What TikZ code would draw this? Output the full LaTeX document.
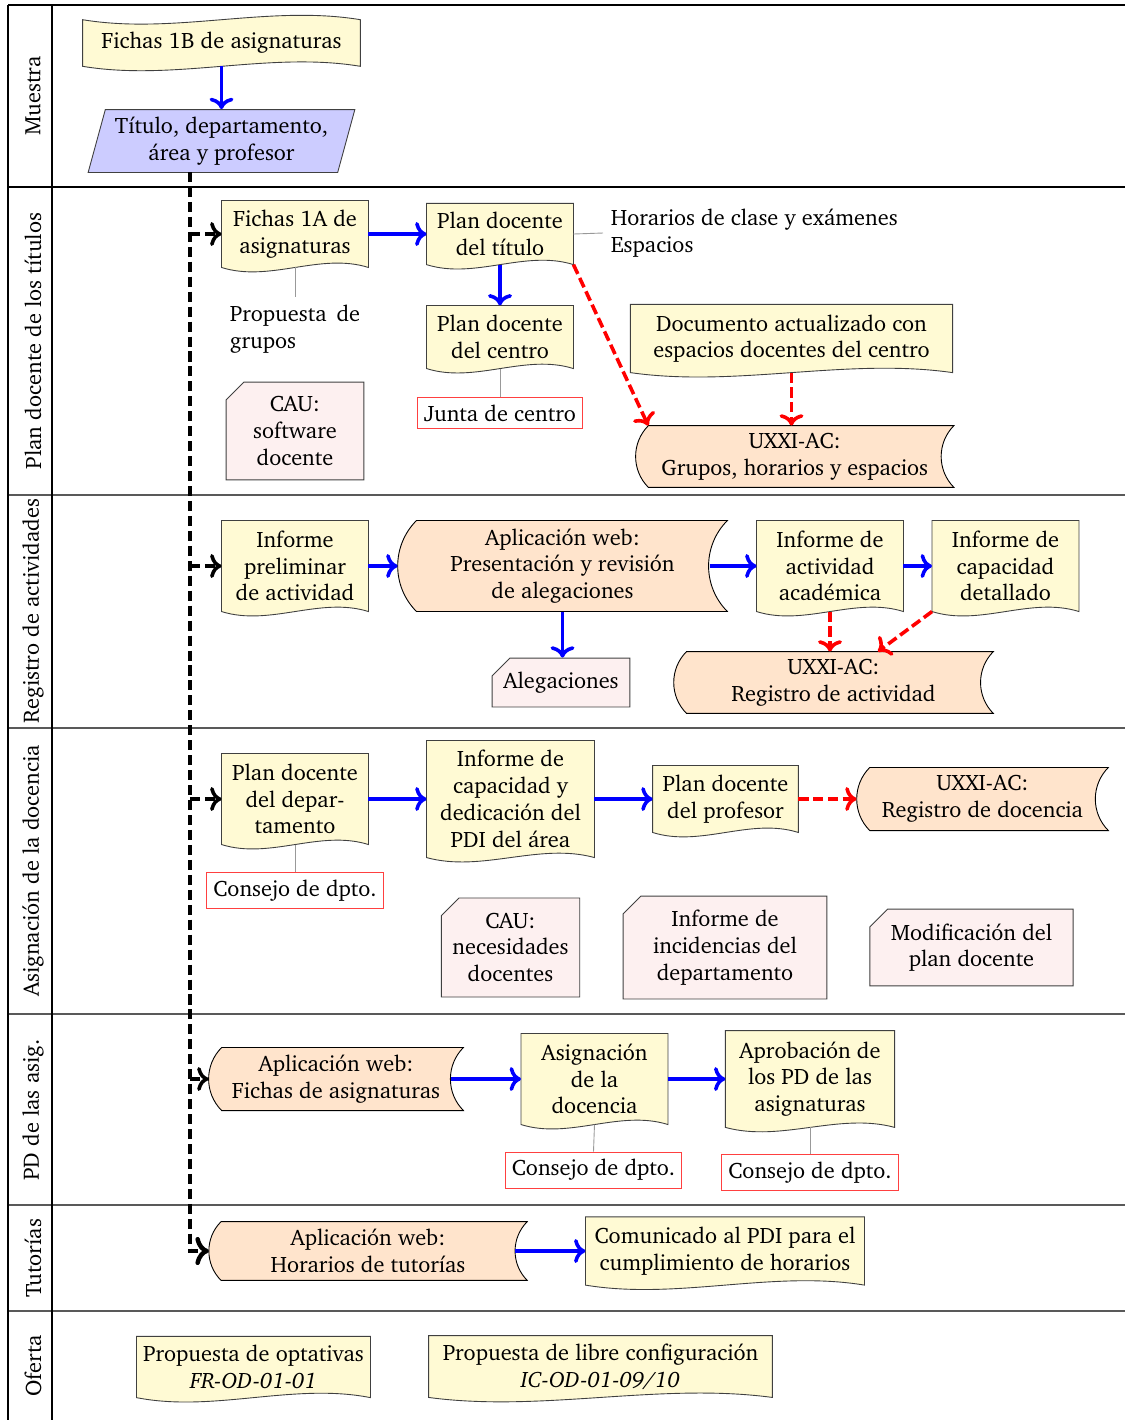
\documentclass[tikz,border=0pt]{standalone}
\usepackage[T1]{fontenc}
\usepackage{charter}
\usepackage{tikz}
\usetikzlibrary{positioning, arrows.meta, calc, backgrounds, shapes.geometric, shapes.misc}

\definecolor{docyellow}{RGB}{255,250,212}
\definecolor{storeorange}{RGB}{255,228,204}
\definecolor{cardpink}{RGB}{253,240,240}
\definecolor{datablue}{RGB}{204,204,255}

% documento: borde inferior ondulado
\newcommand{\docback}[1]{%
  \begin{scope}[on background layer]
    \draw[docline] (#1.north west) -- (#1.south west)
      .. controls ($(#1.south west)!0.33!(#1.south east)+(0cm,-0.24cm)$)
      and ($(#1.south west)!0.67!(#1.south east)+(0cm,0.24cm)$) .. (#1.south east)
      -- (#1.north east) -- cycle;
  \end{scope}}

% cinta: ondulada arriba y abajo
\newcommand{\tapeback}[1]{%
  \begin{scope}[on background layer]
    \draw[docline] (#1.north west)
      .. controls ($(#1.north west)!0.33!(#1.north east)+(0cm,-0.24cm)$)
      and ($(#1.north west)!0.67!(#1.north east)+(0cm,0.24cm)$) .. (#1.north east)
      -- (#1.south east)
      .. controls ($(#1.south west)!0.67!(#1.south east)+(0cm,0.24cm)$)
      and ($(#1.south west)!0.33!(#1.south east)+(0cm,-0.24cm)$) .. (#1.south west)
      -- cycle;
  \end{scope}}

% datos almacenados
\newcommand{\storeback}[1]{%
  \begin{scope}[on background layer]
    \draw[storeline] let \p1=(#1.north west), \p2=(#1.south east),
        \n1={0.208*(\y1-\y2)} in
      (\x1+\n1,\y1) -- (\x2,\y1) to[bend right=45] (\x2,\y2)
      -- (\x1+\n1,\y2) to[bend left=45] (\x1+\n1,\y1) -- cycle;
  \end{scope}}

\begin{document}
\begin{tikzpicture}[
    x=0.01575cm, y=-0.01575cm,
    doc/.style={rectangle, align=center, inner sep=1pt, minimum width=2.3cm},
    stored/.style={rectangle, align=center, inner sep=1pt},
    docline/.style={draw=black!75, fill=docyellow},
    storeline/.style={draw=black, fill=storeorange},
    card/.style={chamfered rectangle, chamfered rectangle corners=north west,
        chamfered rectangle xsep=0.14cm, chamfered rectangle ysep=0.14cm,
        draw=black!75, fill=cardpink, align=center, inner sep=1pt},
    data/.style={trapezium, trapezium left angle=75, trapezium right angle=105,
        trapezium stretches=true, draw=black!75, fill=datablue, align=center},
    council/.style={rectangle, draw=red!75, fill=white, minimum height=0.55cm, inner xsep=3pt},
    lane/.style={rotate=90, anchor=center},
    laneline/.style={draw=black!65, line width=0.6pt},
    flow/.style={-To, draw=blue, ultra thick},
    hint/.style={-To, draw=red, ultra thick, dash pattern=on 4.6pt off 2pt},
    spine/.style={-To, line width=2pt, dash pattern=on 4.5pt off 2.2pt},
    branch/.style={-To, line width=1.6pt, dash pattern=on 4.5pt off 2.2pt},
    note/.style={draw=black!40, thin}
]
\useasboundingbox (0,0) rectangle (1125,1420);

% Carriles
\draw[line width=0.6pt] (8,5) -- (1125,5);
\draw[line width=0.6pt] (8,187) -- (1125,187);
\foreach \y in {495,728,1014,1205,1311}
  \draw[laneline] (8,\y) -- (1125,\y);
\draw[line width=0.9pt] (8,5) -- (8,1420);
\draw[line width=0.9pt] (52,5) -- (52,1420);

\node[lane] (lane1) at (33,96) {Muestra};
\node[lane] (lane2) at (33,341) {Plan docente de los títulos};
\node[lane] (lane3) at (33,611) {Registro de actividades};
\node[lane] (lane4) at (33,871) {Asignación de la docencia};
\node[lane] (lane5) at (33,1110) {PD de las asig.};
\node[lane] (lane6) at (33,1258) {Tutorías};
\node[lane] (lane7) at (33,1366) {Oferta};

% Muestra
\node[doc, minimum width=4.36cm, minimum height=0.72cm] (fichas1b) at (221.5,43) {Fichas 1B de asignaturas};
\tapeback{fichas1b}
\node[data, minimum width=4.2cm, minimum height=0.98cm] (titulo) at (221.5,141) {Título, departamento,\\ área y profesor};
\draw[flow] (fichas1b.south) -- (fichas1b.south |- titulo.north);
\coordinate (spinetop) at (190,172);

% Plan docente de los títulos
\node[doc, minimum height=1.04cm] (fichas1a) at (295,234) {Fichas 1A de\\ asignaturas};
\docback{fichas1a}
\node[doc, minimum height=0.95cm] (plantit) at (500,234) {Plan docente\\ del título};
\docback{plantit}
\node[align=left, text width=2.05cm] (propgrupos) at (295,329) {Propuesta\hfill de\\ grupos};
\node[align=left, anchor=west] (horarios) at (603,233) {Horarios de clase y exámenes\\ Espacios};
\node[doc, minimum height=0.98cm] (plancen) at (500,337) {Plan docente\\ del centro};
\docback{plancen}
\node[council, minimum height=0.5cm] (junta) at (500,413) {Junta de centro};
\node[card, minimum width=2.17cm, minimum height=1.54cm] (cau1) at (295,431) {CAU:\\ software\\ docente};
\node[doc, minimum width=5.06cm, minimum height=1.06cm] (docact) at (791.5,338.5) {Documento actualizado con\\ espacios docentes del centro};
\docback{docact}
\node[stored, minimum width=5.0cm, minimum height=0.96cm] (uxxi1) at (794.75,456.5) {UXXI-AC:\\ Grupos, horarios y espacios};
\storeback{uxxi1}

\draw[flow] (fichas1a.east) -- (plantit.west);
\draw[flow] (plantit.south) -- (plancen.north);
\draw[note] (fichas1a.south) -- (propgrupos.north);
\draw[note] (plantit.east) -- (horarios.west);
\draw[note] (plancen.south) -- (junta.north);
\draw[hint] (plantit.south east) -- ([xshift=0.2cm]uxxi1.north west);
\draw[hint] (docact.south) -- (docact.south |- uxxi1.north);

% Registro de actividades
\node[doc, minimum height=1.42cm] (infprel) at (295,566) {Informe\\ preliminar\\ de actividad};
\docback{infprel}
\node[stored, minimum width=5.18cm, minimum height=1.42cm] (apppres) at (562.5,566) {Aplicación web:\\ Presentación y revisión\\ de alegaciones};
\storeback{apppres}
\node[doc, minimum height=1.42cm] (infacad) at (830,566) {Informe de\\ actividad\\ académica};
\docback{infacad}
\node[doc, minimum height=1.42cm] (infcap) at (1005.5,566) {Informe de\\ capacidad\\ detallado};
\docback{infcap}
\node[card, minimum width=2.17cm, minimum height=0.77cm] (alegac) at (561,682.5) {Alegaciones};
\node[stored, minimum width=5.02cm, minimum height=0.96cm] (uxxi2) at (833.5,682.5) {UXXI-AC:\\ Registro de actividad};
\storeback{uxxi2}

\draw[flow] (infprel.east) -- (apppres.west);
\draw[flow] ([xshift=-0.28cm]apppres.east) -- (infacad.west);
\draw[flow] (infacad.east) -- (infcap.west);
\draw[flow] (apppres.south) -- (apppres.south |- alegac.north);
\draw[hint] (infacad.south) -- (infacad.south |- uxxi2.north);
\draw[hint] (infcap.south west) -- ([xshift=0.7cm]uxxi2.north);

% Asignación de la docencia
\node[doc, minimum height=1.42cm] (plandep) at (295,799) {Plan docente\\ del depar-\\ tamento};
\docback{plandep}
\node[council, minimum width=2.7cm] (consejo1) at (295,890.5) {Consejo de dpto.};
\node[doc, minimum width=2.63cm, minimum height=1.83cm] (infded) at (510.5,799) {Informe de\\ capacidad y\\ dedicación del\\ PDI del área};
\docback{infded}
\node[doc, minimum width=2.28cm, minimum height=1.04cm] (planprof) at (725.5,799) {Plan docente\\ del profesor};
\docback{planprof}
\node[stored, minimum width=3.95cm, minimum height=0.98cm] (uxxi3) at (982.5,799) {UXXI-AC:\\ Registro de docencia};
\storeback{uxxi3}
\node[card, minimum width=2.16cm, minimum height=1.56cm] (cau2) at (510.5,947.5) {CAU:\\ necesidades\\ docentes};
\node[card, minimum width=3.21cm, minimum height=1.62cm] (incid) at (725,947.5) {Informe de\\ incidencias del\\ departamento};
\node[card, minimum width=3.2cm, minimum height=1.21cm] (modif) at (971.5,947.5) {Modificación del\\ plan docente};

\draw[flow] (plandep.east) -- (infded.west);
\draw[flow] (infded.east) -- (planprof.west);
\draw[hint] (planprof.east) -- (uxxi3.west);
\draw[note] (plandep.south) -- (consejo1.north);

% PD de las asignaturas
\node[stored, minimum width=4.0cm, minimum height=0.98cm] (appfichas) at (336,1079) {Aplicación web:\\ Fichas de asignaturas};
\storeback{appfichas}
\node[doc, minimum height=1.42cm] (asigdoc) at (594.5,1079) {Asignación\\ de la\\ docencia};
\docback{asigdoc}
\node[council, minimum width=2.7cm] (consejo2) at (593.5,1170) {Consejo de dpto.};
\node[doc, minimum width=2.65cm, minimum height=1.51cm] (aprob) at (810,1079) {Aprobación de\\ los PD de las\\ asignaturas};
\docback{aprob}
\node[council, minimum width=2.7cm] (consejo3) at (810,1172.5) {Consejo de dpto.};

\draw[flow] ([xshift=-0.2cm]appfichas.east) -- (asigdoc.west);
\draw[flow] (asigdoc.east) -- (aprob.west);
\draw[note] (asigdoc.south) -- (consejo2.north);
\draw[note] (aprob.south) -- (consejo3.north);

% Tutorías
\node[stored, minimum width=5.0cm, minimum height=0.91cm] (apptut) at (368,1251) {Aplicación web:\\ Horarios de tutorías};
\storeback{apptut}
\node[doc, minimum width=4.38cm, minimum height=1.06cm] (comunic) at (725,1251) {Comunicado al PDI para el\\ cumplimiento de horarios};
\docback{comunic}
\draw[flow] ([xshift=-0.19cm]apptut.east) -- (comunic.west);

% Oferta
\node[doc, minimum width=3.67cm, minimum height=0.95cm] (optat) at (253.5,1367) {Propuesta de optativas\\ \textit{FR-OD-01-01}};
\docback{optat}
\node[doc, minimum width=5.4cm, minimum height=0.96cm] (libre) at (600.5,1366.5) {Propuesta de libre configuración\\ \textit{IC-OD-01-09/10}};
\docback{libre}

% Línea de muestra hacia cada carril
\draw[spine] (spinetop) |- (apptut.west);
\draw[branch] (spinetop |- fichas1a.west) -- (fichas1a.west);
\draw[branch] (spinetop |- infprel.west) -- (infprel.west);
\draw[branch] (spinetop |- plandep.west) -- (plandep.west);
\draw[branch] (spinetop |- appfichas.west) -- (appfichas.west);

\end{tikzpicture}
\end{document}
